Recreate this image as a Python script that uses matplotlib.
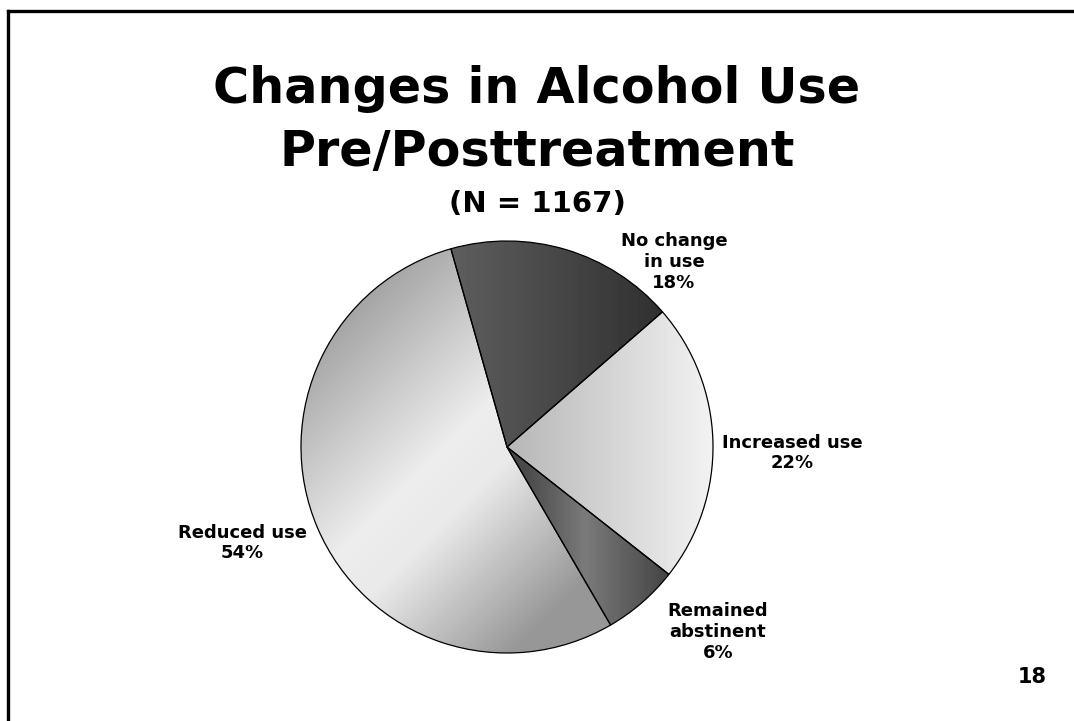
import numpy as np
import matplotlib
matplotlib.use("Agg")
import matplotlib.pyplot as plt
from matplotlib.lines import Line2D

# ---- data ----
categories = ["No change\nin use", "Increased use", "Remained\nabstinent", "Reduced use"]
percents = [18, 22, 6, 54]
title_lines = ["Changes in Alcohol Use", "Pre/Posttreatment"]
subtitle = "(N = 1167)"
page_number = "18"

W, H = 1074, 721
fig = plt.figure(figsize=(W / 100, H / 100), dpi=100)
fig.patch.set_facecolor("white")
ax = fig.add_axes([0, 0, 1, 1])

# frame lines (left and top only)
fig.add_artist(Line2D([8 / W, 8 / W], [0, 1 - 11 / H], transform=fig.transFigure, color="black", lw=2.4))
fig.add_artist(Line2D([8 / W, 1], [1 - 11 / H, 1 - 11 / H], transform=fig.transFigure, color="black", lw=2.4))

cx, cy, R = 507, H - 447, 206
wedges, _ = ax.pie(percents, startangle=105.8, counterclock=False, center=(cx, cy), radius=R,
                   colors=["none"] * 4,
                   wedgeprops=dict(edgecolor="black", linewidth=0.9), frame=True)
ax.set_xlim(0, W)
ax.set_ylim(0, H)
ax.set_aspect("equal")
ax.axis("off")

# gradient fills
ys, xs = np.mgrid[cy + R:cy - R:-1, cx - R:cx + R + 1]
xs = xs.astype(float)
ys = ys.astype(float)
ext = (cx - R, cx + R + 1, cy - R, cy + R)

# No change: horizontal dark gradient
g0 = np.interp(xs, [451, 663], [0x5e / 255, 0x30 / 255])
# Increased: horizontal light gradient
g1 = np.interp(xs, [cx, cx + R], [0xb6 / 255, 0xf2 / 255])
# Remained abstinent: lighter in middle
g2 = np.interp(xs, [525, 585, 668], [0x4a / 255, 0x7a / 255, 0x44 / 255])
# Reduced: diagonal band, lighter in middle, with fine hatching texture
t = ((xs - cx) - (ys - cy)) / np.sqrt(2)
g3 = np.interp(t, [-R, -45, 10, R * 0.72], [0xa8 / 255, 0xf0 / 255, 0xec / 255, 0x9a / 255])
g3 = g3 - 0.025 * (0.5 + 0.5 * np.sin(2 * np.pi * (xs - ys) / 3.2))

for w, g in zip(wedges, [g0, g1, g2, g3]):
    im = ax.imshow(np.clip(g, 0, 1), cmap="gray", vmin=0, vmax=1, extent=ext, origin="upper",
                   interpolation="bilinear", zorder=1)
    im.set_clip_path(w)
    w.set_zorder(2)

ax.set_xlim(0, W)
ax.set_ylim(0, H)

# labels
label_pos = [(674, H - 262), (792, H - 453), (718, H - 632), (242, H - 543)]
for cat, p, (lx, ly) in zip(categories, percents, label_pos):
    ax.text(lx, ly, f"{cat}\n{p}%", ha="center", va="center", fontsize=13,
            fontweight="bold", family="DejaVu Sans", linespacing=1.2, zorder=5)

# titles
ax.text(W / 2, H - 89, title_lines[0], ha="center", va="center", fontsize=35.5, fontweight="bold")
ax.text(W / 2, H - 152, title_lines[1], ha="center", va="center", fontsize=35.5, fontweight="bold")
ax.text(W / 2, H - 204, subtitle, ha="center", va="center", fontsize=21, fontweight="bold")
ax.text(1032, H - 677, page_number, ha="center", va="center", fontsize=15, fontweight="bold")

fig.savefig("out.png", dpi=100, facecolor="white")
